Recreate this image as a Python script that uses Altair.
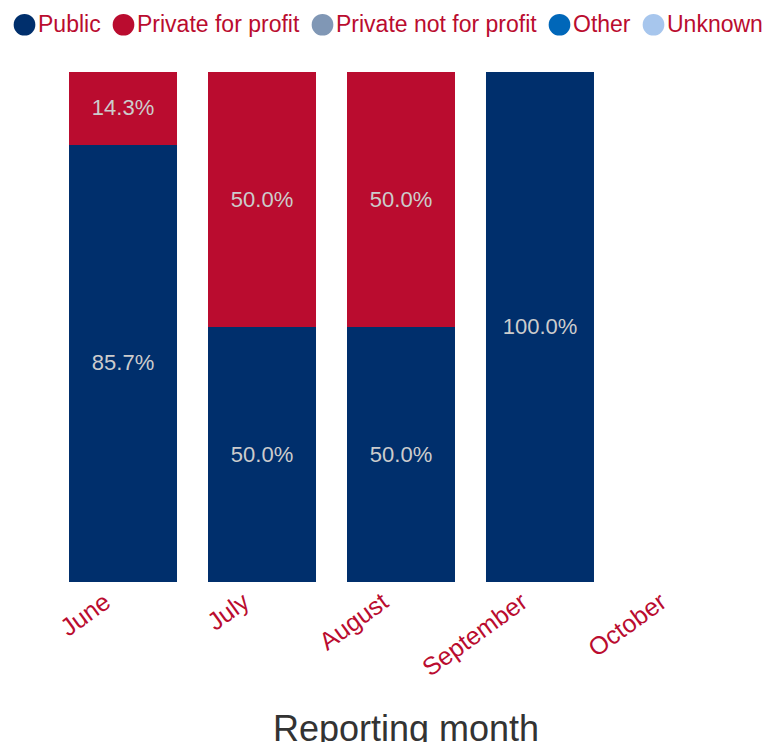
import altair as alt
import pandas as pd

months = ["June", "July", "August", "September", "October"]
categories = ["Public", "Private for profit", "Private not for profit", "Other", "Unknown"]
colors = ["#002F6C", "#BA0C2F", "#8097B5", "#0067B9", "#A7C6ED"]

public = [85.7, 50.0, 50.0, 100.0]
private_profit = [14.3, 50.0, 50.0, 0.0]
private_nonprofit = [0.0, 0.0, 0.0, 0.0]
other = [0.0, 0.0, 0.0, 0.0]
unknown = [0.0, 0.0, 0.0, 0.0]

series = [public, private_profit, private_nonprofit, other, unknown]
rows = []
for ci, (cat, vals) in enumerate(zip(categories, series)):
    for mi, v in enumerate(vals):
        rows.append({"month": months[mi], "category": cat, "rank": ci, "value": v})
df = pd.DataFrame(rows)

font = "Liberation Sans"
red = "#BA0C2F"

base = alt.Chart(df).transform_stack(
    stack="value", groupby=["month"], as_=["y0", "y1"],
    sort=[alt.SortField("rank", order="ascending")]
)

x = alt.X("month:N", scale=alt.Scale(domain=months, paddingInner=0.223, paddingOuter=0.108),
          sort=months,
          axis=alt.Axis(title="Reporting month", labelAngle=-36, labelColor=red, labelFontSize=25,
                        labelFont=font, titleFont=font, titleFontSize=36, titleColor="#333333",
                        titleFontWeight="normal", domain=False, ticks=False, labelPadding=32,
                        labelAlign="right", labelBaseline="middle", translate=-15,
                        labelBound=False, labelOverlap=False,
                        titleX=367, titleY=146, titleAlign="center", titleBaseline="top"))

bars = base.mark_bar().encode(
    x=x,
    y=alt.Y("y0:Q", scale=alt.Scale(domain=[0, 100]), axis=None),
    y2="y1:Q",
    color=alt.Color("category:N", scale=alt.Scale(domain=categories, range=colors),
                    legend=alt.Legend(title=None, orient="none", direction="horizontal",
                                      legendX=-41, legendY=-59, symbolType="circle", symbolSize=470,
                                      symbolStrokeWidth=0, symbolOpacity=1,
                                      labelColor=red, labelFontSize=23, labelFont=font,
                                      labelLimit=400,
                                      labelOffset=2, columnPadding=11, columns=5)),
)

texts = base.transform_filter("datum.value > 0").transform_calculate(
    mid="(datum.y0 + datum.y1) / 2",
    label="format(datum.value, '.1f') + '%'"
).mark_text(color="#CCCCCC", fontSize=22, font=font, baseline="middle").encode(
    x=alt.X("month:N", scale=alt.Scale(domain=months), sort=months),
    y=alt.Y("mid:Q", scale=alt.Scale(domain=[0, 100])),
    text="label:N",
)

chart = alt.layer(bars, texts).properties(
    width=694, height=510,
    autosize=alt.AutoSizeParams(type="none"),
    padding={"left": 46, "top": 64, "right": 16, "bottom": 170},
).configure_view(stroke=None)

chart.save("out.html", embed_options={"renderer": "svg", "actions": False})
